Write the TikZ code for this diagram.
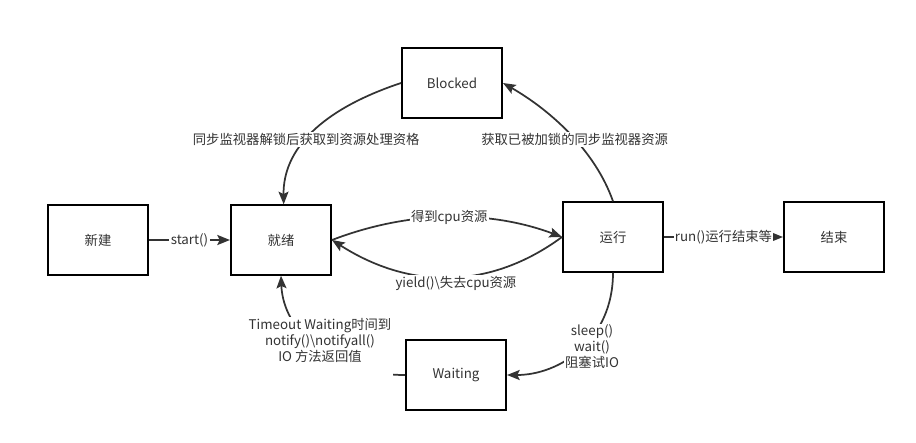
\documentclass[tikz,border=0pt]{standalone}
\usepackage{fontspec}
\setmainfont{Noto Sans CJK SC}
\usetikzlibrary{arrows.meta}
\definecolor{stgray}{HTML}{333333}

\begin{document}
\begin{tikzpicture}[x=0.75pt, y=-0.75pt,
  every node/.style={font=\fontsize{10pt}{12pt}\selectfont, text=stgray},
  state/.style={draw=black, line width=1.5pt, minimum width=75pt, minimum height=52pt, inner sep=0pt},
  flow/.style={draw=stgray, line width=1.3pt, -{Stealth[length=9.5pt, width=7.5pt, inset=1.8pt]}},
  lbl/.style={fill=white, inner sep=1pt, align=center}]

  % ---- Canvas ----
  \useasboundingbox (0,0) rectangle (916,442);

  % ---- States ----
  \node[state] (new)     at (98,240)  {新建};
  \node[state] (ready)   at (281,240) {就绪};
  \node[state] (blocked) at (452,83)  {Blocked};
  \node[state] (run)     at (613,237) {运行};
  \node[state] (dead)    at (834,237) {结束};
  \node[state] (wait)    at (456,375) {Waiting};

  % ---- Straight transitions ----
  \draw[flow] (new) -- node[lbl] (lbStart) {start()} (ready);
  \draw[flow] (run) -- node[lbl] (lbRunEnd) {run()运行结束等} (dead);

  % ---- Ready <-> Running ----
  \draw[flow] (ready.east) .. controls (410,210) and (490,210) .. (run.west)
    node[lbl, pos=0.5] (lbGetCpu) {得到cpu资源};
  \draw[flow] (run.west) .. controls (490,290) and (410,290) .. (ready.east)
    node[lbl, pos=0.5, xshift=5pt, yshift=-5pt] (lbYield) {yield()\textbackslash 失去cpu资源};

  % ---- Blocked loop ----
  \draw[flow] (run.north) .. controls (595,150) and (550,110) .. (blocked.east)
    node[lbl, pos=0.45] (lbLock) {获取已被加锁的同步监视器资源};
  \draw[flow] (blocked.west) .. controls (320,110) and (283,150) .. ([xshift=2pt]ready.north)
    node[lbl, pos=0.55] (lbUnlock) {同步监视器解锁后获取到资源处理资格};

  % ---- Waiting loop ----
  \draw[flow] (run.south) .. controls (613,340) and (560,375) .. (wait.east);
  \node[lbl] (lbSleep) at (592,347) {sleep()\\wait()\\阻塞试IO};
  \draw[flow] (wait.west) .. controls (330,375) and (283,330) .. (ready.south);
  \node[lbl, text depth=11pt, anchor=north] (lbTimeout) at (320,317)
    {Timeout Waiting时间到\\notify()\textbackslash notifyall()\\IO 方法返回值};

\end{tikzpicture}
\end{document}
